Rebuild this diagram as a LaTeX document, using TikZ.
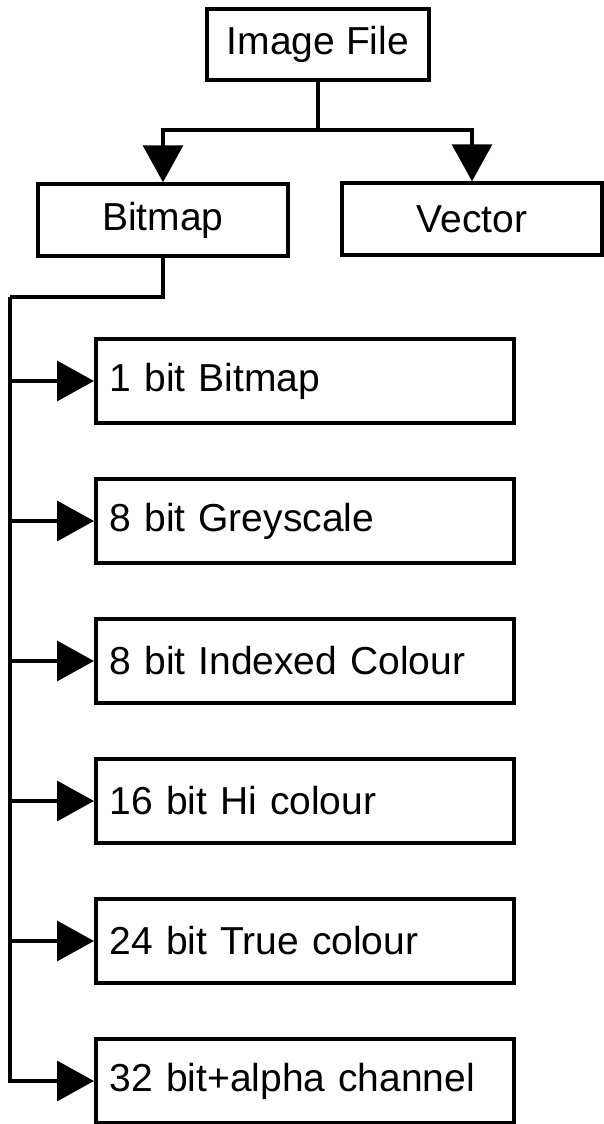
\documentclass[tikz,border=0pt]{standalone}
\usepackage{fontspec}
\setmainfont{Liberation Sans}
\usetikzlibrary{arrows.meta}
\begin{document}
\begin{tikzpicture}[x=1pt,y=-1pt,
  box/.style={draw=black, line width=3.5pt, rectangle, inner sep=0pt,
    font=\fontsize{39}{46}\selectfont, text=black},
  topbox/.style={box, minimum height=72pt},
  leafbox/.style={box, minimum height=84pt, text width=390pt, inner xsep=14pt, align=left, anchor=west},
  conn/.style={line width=3.5pt, line join=miter},
  arr/.style={conn, -{Triangle[length=37pt,width=40pt]}}
]
\useasboundingbox (0,0) rectangle (603,1124);
\node[topbox, minimum width=222pt, minimum height=71pt] (img) at (318,44.5) {Image File};
\node[topbox, minimum width=250pt] (bitmap) at (163,220) {Bitmap};
\node[topbox, minimum width=260pt] (vector) at (472,219) {Vector};

\node[leafbox] (b1) at (94,381) {1 bit Bitmap};
\node[leafbox] (b2) at (94,521) {8 bit Greyscale};
\node[leafbox] (b3) at (94,661) {8 bit Indexed Colour};
\node[leafbox] (b4) at (94,801) {16 bit Hi colour};
\node[leafbox] (b5) at (94,941) {24 bit True colour};
\node[leafbox] (b6) at (94,1081) {32 bit+alpha channel};

\coordinate (j1) at (318,130);
\coordinate (t0) at (10,297);

\draw[conn] (img.south) -- (j1);
\draw[arr] (j1) -| (bitmap.north);
\draw[arr] (j1) -| (vector.north);

\draw[conn] (bitmap.south) |- (t0);
\draw[arr] (t0) |- (b6.west);
\foreach \b in {b1,b2,b3,b4,b5}{
  \draw[arr] (t0 |- \b.west) -- (\b.west);
}
\end{tikzpicture}
\end{document}
